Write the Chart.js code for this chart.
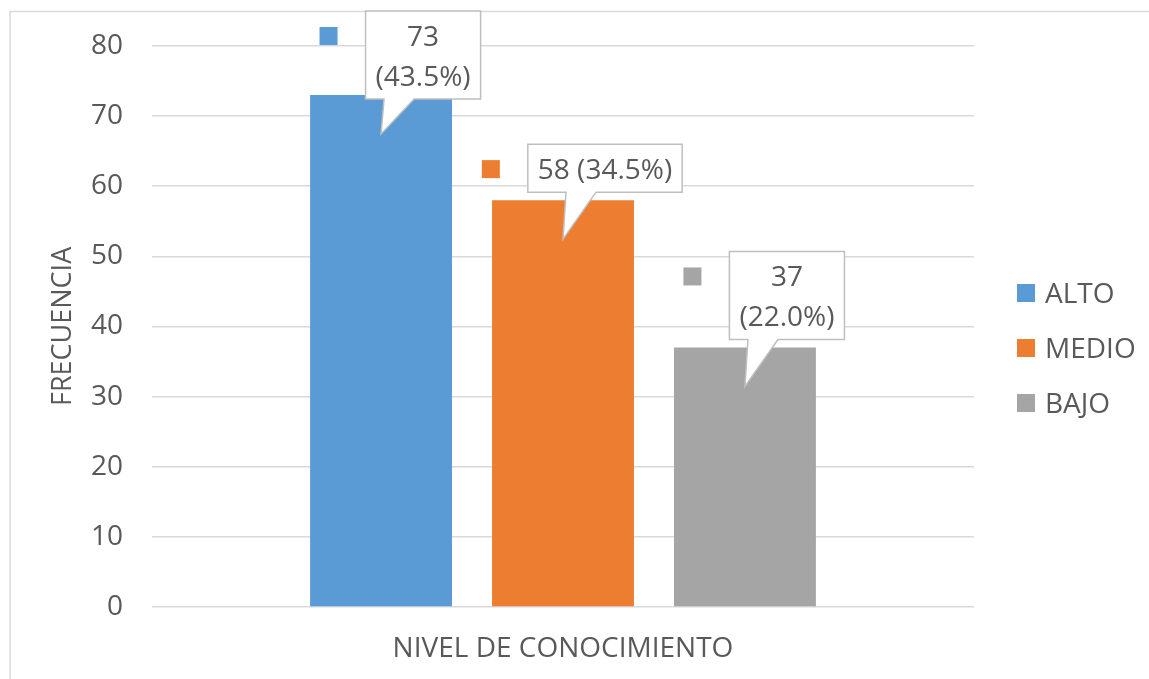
<!DOCTYPE html>
<html>
<head>
<meta charset="utf-8">
<script src="https://cdn.jsdelivr.net/npm/chart.js@4.4.1/dist/chart.umd.min.js"></script>
<style>
  html, body { margin: 0; padding: 0; background: #ffffff; }
  #wrap { width: 1149px; height: 679px; position: relative; }
</style>
</head>
<body>
<div id="wrap"><canvas id="c" width="1149" height="679"></canvas></div>
<script>
// ---- data ----
const categories = ['NIVEL DE CONOCIMIENTO'];
const seriesNames = ['ALTO', 'MEDIO', 'BAJO'];
const altoValues = [73];
const medioValues = [58];
const bajoValues = [37];
const yTicks = [0, 10, 20, 30, 40, 50, 60, 70, 80];
const yTitle = 'FRECUENCIA';

// ---- styles ----
const colors = ['#5B9BD5', '#ED7D31', '#A5A5A5'];
const calloutWrap = [true, false, true];
const FONT = '"Open Sans", "DejaVu Sans", sans-serif';
const TEXT = '#595959';
const GRID = '#d9d9d9';

const seriesValues = [altoValues, medioValues, bajoValues];
const total = seriesValues.reduce((s, a) => s + a[0], 0);

const frame = {
  id: 'frame',
  beforeDraw(chart) {
    const ctx = chart.ctx;
    ctx.save();
    ctx.fillStyle = '#ffffff';
    ctx.fillRect(0, 0, chart.width, chart.height);
    ctx.strokeStyle = GRID;
    ctx.lineWidth = 1.5;
    ctx.beginPath();
    ctx.moveTo(10, chart.height);
    ctx.lineTo(10, 11.5);
    ctx.lineTo(chart.width, 11.5);
    ctx.stroke();
    ctx.restore();
  }
};

const callouts = {
  id: 'callouts',
  afterDatasetsDraw(chart) {
    const ctx = chart.ctx;
    ctx.save();
    ctx.font = '28px ' + FONT;
    chart.data.datasets.forEach((ds, i) => {
      const el = chart.getDatasetMeta(i).data[0];
      const v = ds.data[0];
      const pct = (v / total * 100).toFixed(1) + '%';
      const lines = calloutWrap[i] ? [String(v), '(' + pct + ')'] : [v + ' (' + pct + ')'];
      const tw = Math.max(...lines.map(l => ctx.measureText(l).width));
      const w = tw + 20;
      const h = 48 + 40 * (lines.length - 1);
      const tipX = el.x, tipY = el.y + 39;
      const cx = tipX + 42;
      let bottom = tipY - 47;
      let top = bottom - h;
      if (top < 11) { top = 11; bottom = top + h; }
      const left = cx - w / 2, right = cx + w / 2;
      ctx.beginPath();
      ctx.moveTo(left, top);
      ctx.lineTo(right, top);
      ctx.lineTo(right, bottom);
      ctx.lineTo(tipX + 33, bottom);
      ctx.lineTo(tipX, tipY);
      ctx.lineTo(tipX + 3, bottom);
      ctx.lineTo(left, bottom);
      ctx.closePath();
      ctx.fillStyle = '#ffffff';
      ctx.fill();
      ctx.strokeStyle = '#bfbfbf';
      ctx.lineWidth = 1.5;
      ctx.stroke();
      ctx.fillStyle = TEXT;
      ctx.textAlign = 'center';
      ctx.textBaseline = 'alphabetic';
      lines.forEach((l, k) => ctx.fillText(l, cx, top + 35 + 40 * k));
      // legend key
      ctx.fillStyle = ds.backgroundColor;
      ctx.fillRect(left - 37 - 9, top + 25 - 9, 18, 18);
    });
    ctx.restore();
  }
};

const legendRight = {
  id: 'legendRight',
  afterDraw(chart) {
    const ctx = chart.ctx;
    ctx.save();
    ctx.font = '28px ' + FONT;
    ctx.textAlign = 'left';
    ctx.textBaseline = 'alphabetic';
    chart.data.datasets.forEach((ds, i) => {
      const cy = 293 + 55 * i;
      ctx.fillStyle = ds.backgroundColor;
      ctx.fillRect(1017, cy - 9, 18, 18);
      ctx.fillStyle = TEXT;
      ctx.fillText(ds.label, 1045, cy + 10);
    });
    ctx.restore();
  }
};

new Chart(document.getElementById('c'), {
  type: 'bar',
  data: {
    labels: categories,
    datasets: seriesNames.map((n, i) => ({
      label: n,
      data: seriesValues[i],
      backgroundColor: colors[i],
      borderWidth: 0,
      categoryPercentage: 0.664,
      barPercentage: 0.78
    }))
  },
  options: {
    responsive: false,
    animation: false,
    devicePixelRatio: 1,
    layout: { padding: { top: 44, right: 175, left: 0, bottom: 0 } },
    plugins: { legend: { display: false }, tooltip: { enabled: false } },
    scales: {
      x: {
        grid: { display: false, drawTicks: false },
        border: { display: false },
        ticks: { color: TEXT, font: { family: FONT, size: 28 }, padding: 25, maxRotation: 0 },
        afterFit(s) { s.height = 72; }
      },
      y: {
        min: 0, max: 80,
        afterBuildTicks(s) { s.ticks = yTicks.map(v => ({ value: v })); },
        grid: { color: GRID, lineWidth: 1.5, drawTicks: false },
        border: { display: false },
        ticks: { color: TEXT, font: { family: FONT, size: 28 }, padding: 29 },
        title: { display: true, text: yTitle, color: TEXT, font: { family: FONT, size: 27 }, padding: { top: 47, bottom: 0 } },
        afterFit(s) { s.width = 152; }
      }
    }
  },
  plugins: [frame, callouts, legendRight]
});
</script>
</body>
</html>
